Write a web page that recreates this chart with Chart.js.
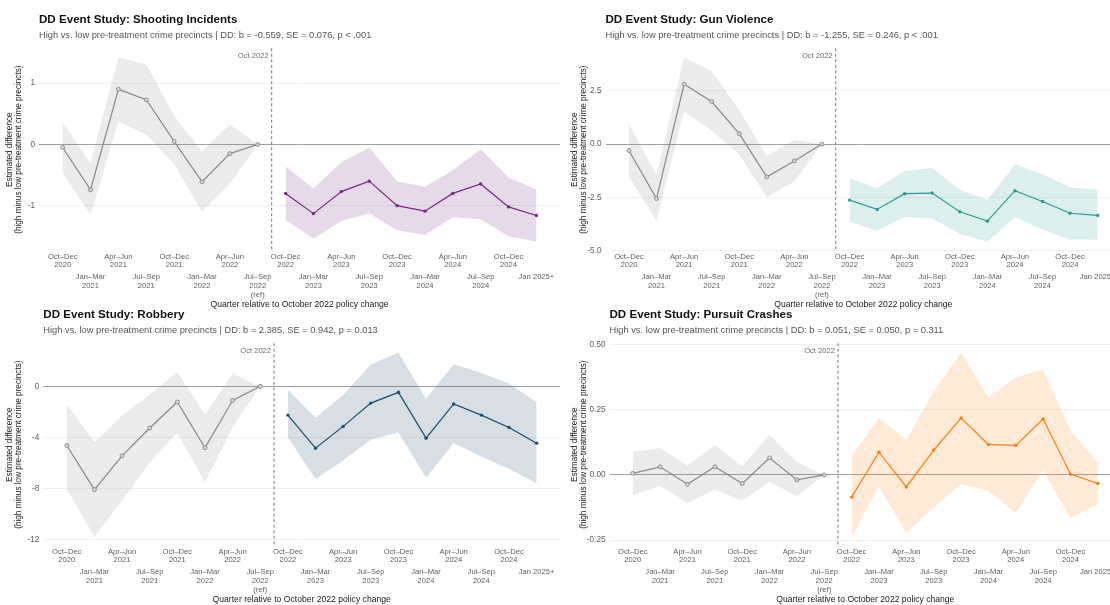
<!DOCTYPE html>
<html><head><meta charset="utf-8">
<script src="https://cdn.jsdelivr.net/npm/chart.js@4.4.1/dist/chart.umd.min.js"></script>
<style>
html,body{margin:0;padding:0;background:#fff;width:1110px;height:605px;overflow:hidden;position:relative}
.panel{position:absolute}
canvas{display:block}
</style></head><body>
<div class="panel" style="left:0;top:0"><canvas id="c1" width="565" height="310"></canvas></div>
<div class="panel" style="left:565px;top:0"><canvas id="c2" width="561" height="310"></canvas></div>
<div class="panel" style="left:0;top:295px"><canvas id="c3" width="565" height="310"></canvas></div>
<div class="panel" style="left:565px;top:295px"><canvas id="c4" width="561" height="310"></canvas></div>
<script>
// ---------- data ----------
const quarterLabels = [
  ['Oct–Dec','2020'], ['Jan–Mar','2021'], ['Apr–Jun','2021'], ['Jul–Sep','2021'],
  ['Oct–Dec','2021'], ['Jan–Mar','2022'], ['Apr–Jun','2022'], ['Jul–Sep','2022','(ref)'],
  ['Oct–Dec','2022'], ['Jan–Mar','2023'], ['Apr–Jun','2023'], ['Jul–Sep','2023'],
  ['Oct–Dec','2023'], ['Jan–Mar','2024'], ['Apr–Jun','2024'], ['Jul–Sep','2024'],
  ['Oct–Dec','2024'], ['Jan 2025+']
];
const refIndex = 7;
const policyBreak = 7.5;
const policyLabel = 'Oct 2022';
const xAxisTitle = 'Quarter relative to October 2022 policy change';
const yAxisTitle = ['Estimated difference', '(high minus low pre-treatment crime precincts)'];

const shootTitle = 'DD Event Study: Shooting Incidents';
const shootSubtitle = 'High vs. low pre-treatment crime precincts | DD: b = -0.559, SE = 0.076, p < .001';
const shootEst = [-0.05,-0.74,0.90,0.73,0.05,-0.61,-0.15,0,-0.80,-1.13,-0.77,-0.60,-1.00,-1.09,-0.80,-0.645,-1.02,-1.16];
const shootHi  = [0.36,-0.31,1.42,1.31,0.47,-0.11,0.33,0,-0.36,-0.72,-0.29,-0.05,-0.60,-0.69,-0.42,-0.08,-0.54,-0.73];
const shootLo  = [-0.47,-1.15,0.38,0.16,-0.32,-1.10,-0.64,0,-1.23,-1.54,-1.25,-1.13,-1.40,-1.48,-1.19,-1.22,-1.50,-1.59];
const shootTicks = [-1, 0, 1];
const shootTickLabels = ['-1', '0', '1'];

const gunTitle = 'DD Event Study: Gun Violence';
const gunSubtitle = 'High vs. low pre-treatment crime precincts | DD: b = -1.255, SE = 0.246, p < .001';
const gunEst = [-0.30,-2.56,2.81,2.00,0.49,-1.54,-0.79,0,-2.63,-3.07,-2.33,-2.30,-3.18,-3.62,-2.19,-2.70,-3.25,-3.35];
const gunHi  = [0.93,-1.45,4.07,3.43,1.59,-0.57,0.20,0,-1.60,-2.08,-1.26,-1.12,-2.15,-2.63,-0.96,-1.40,-2.03,-2.15];
const gunLo  = [-1.53,-3.60,1.54,0.64,-0.49,-2.50,-1.76,0,-3.66,-4.06,-3.44,-3.49,-4.23,-4.59,-3.44,-4.01,-4.48,-4.50];
const gunTicks = [-5, -2.5, 0, 2.5];
const gunTickLabels = ['-5.0', '-2.5', '0.0', '2.5'];

const robTitle = 'DD Event Study: Robbery';
const robSubtitle = 'High vs. low pre-treatment crime precincts | DD: b = 2.385, SE = 0.942, p = 0.013';
const robEst = [-4.62,-8.07,-5.43,-3.26,-1.23,-4.80,-1.10,0,-2.25,-4.83,-3.13,-1.31,-0.47,-4.05,-1.38,-2.25,-3.21,-4.44];
const robHi  = [-1.41,-4.36,-2.27,-0.65,1.12,-2.22,0.99,0,-0.26,-2.45,-0.68,1.70,2.64,-0.97,1.72,1.04,0.21,-1.25];
const robLo  = [-8.02,-11.75,-8.93,-5.93,-3.63,-7.49,-3.19,0,-3.97,-7.23,-5.80,-4.18,-3.58,-7.15,-4.44,-5.48,-6.45,-7.57];
const robTicks = [-12, -8, -4, 0];
const robTickLabels = ['-12', '-8', '-4', '0'];

const purTitle = 'DD Event Study: Pursuit Crashes';
const purSubtitle = 'High vs. low pre-treatment crime precincts | DD: b = 0.051, SE = 0.050, p = 0.311';
const purEst = [0.006,0.031,-0.036,0.031,-0.033,0.065,-0.019,0,-0.085,0.087,-0.046,0.095,0.218,0.117,0.113,0.214,0.003,-0.033];
const purHi  = [0.090,0.103,0.036,0.114,0.033,0.154,0.049,0,0.072,0.217,0.135,0.320,0.469,0.296,0.373,0.404,0.171,0.047];
const purLo  = [-0.077,-0.042,-0.108,-0.056,-0.099,-0.026,-0.082,0,-0.237,-0.044,-0.222,-0.124,-0.036,-0.062,-0.146,0.019,-0.165,-0.113];
const purTicks = [-0.25, 0, 0.25, 0.5];
const purTickLabels = ['-0.25', '0.00', '0.25', '0.50'];

// ---------- style ----------
const FONT = '"Liberation Sans", Arial, Helvetica, sans-serif';
Chart.defaults.font.family = FONT;
const grayLine = '#8a8a8a';
const grayBand = 'rgba(128,128,128,0.16)';

const policyPlugin = {
  id: 'policyLine',
  afterDatasetsDraw(chart) {
    const {ctx, chartArea, scales} = chart;
    const px = scales.x.getPixelForValue(policyBreak);
    ctx.save();
    ctx.strokeStyle = '#666666';
    ctx.lineWidth = 0.9;
    ctx.setLineDash([3, 2.5]);
    ctx.beginPath();
    ctx.moveTo(px, chartArea.top);
    ctx.lineTo(px, chartArea.bottom);
    ctx.stroke();
    ctx.setLineDash([]);
    ctx.fillStyle = '#6e6e6e';
    ctx.font = '7.6px ' + FONT;
    ctx.textAlign = 'right';
    ctx.textBaseline = 'middle';
    ctx.fillText(policyLabel, px - 3, chartArea.top + 8);
    ctx.restore();
  }
};

function pts(arr, from, to) {
  return arr.slice(from, to + 1).map((v, i) => ({x: from + i, y: v}));
}

function makeChart(id, p) {
  const last = quarterLabels.length - 1;
  const allHi = Math.max(...p.hi), allLo = Math.min(...p.lo);
  const pad = (allHi - allLo) * 0.05;
  const xPad = last * 0.05;
  new Chart(document.getElementById(id), {
    type: 'line',
    data: {
      datasets: [
        {data: pts(p.est, 0, refIndex), borderColor: grayLine, borderWidth: 1.2,
         pointRadius: 2, pointBorderWidth: 0.9, pointBorderColor: grayLine, pointBackgroundColor: '#d4d4d4',
         fill: false, tension: 0},
        {data: pts(p.est, refIndex + 1, last), borderColor: p.color, borderWidth: 1.2,
         pointRadius: 1.7, pointBorderWidth: 0, pointBackgroundColor: p.color, fill: false, tension: 0},
        {data: pts(p.hi, 0, refIndex), borderWidth: 0, pointRadius: 0, fill: '+1', backgroundColor: grayBand, tension: 0},
        {data: pts(p.lo, 0, refIndex), borderWidth: 0, pointRadius: 0, fill: false, tension: 0},
        {data: pts(p.hi, refIndex + 1, last), borderWidth: 0, pointRadius: 0, fill: '+1', backgroundColor: p.band, tension: 0},
        {data: pts(p.lo, refIndex + 1, last), borderWidth: 0, pointRadius: 0, fill: false, tension: 0}
      ]
    },
    options: {
      responsive: false, animation: false, devicePixelRatio: 1,
      layout: {padding: 0},
      plugins: {
        legend: {display: false}, tooltip: {enabled: false},
        filler: {drawTime: 'beforeDatasetsDraw'},
        title: {display: true, text: p.title, align: 'start', fullSize: false, color: '#111',
                font: {size: 11.6, weight: 'bold'}, padding: {top: 13, bottom: 2}},
        subtitle: {display: true, text: p.subtitle, align: 'start', fullSize: false, color: '#555',
                   font: {size: 9.3}, padding: {top: 1, bottom: 7.2}}
      },
      scales: {
        x: {
          type: 'linear', min: -xPad, max: last + xPad,
          grid: {display: false, drawTicks: false}, border: {display: false},
          afterBuildTicks: s => { s.ticks = quarterLabels.map((_, i) => ({value: i})); },
          ticks: {
            autoSkip: false, maxRotation: 0, minRotation: 0, padding: 2, color: '#5f5f5f',
            font: c => ({family: FONT, size: 7.6, lineHeight: (c.index % 2) ? 9.4 / 7.6 : 8 / 7.6}),
            callback: (v, i) => (i % 2) ? ['', ''].concat(quarterLabels[i]) : quarterLabels[i]
          },
          title: {display: true, text: xAxisTitle, color: '#1a1a1a', font: {size: 8.6}, padding: {top: 0, bottom: 0}},
          afterFit: s => { s.height = 59; }
        },
        y: {
          min: allLo - pad, max: allHi + pad,
          grid: {drawTicks: false,
                 color: c => (c.tick && c.tick.value === 0) ? '#a0a0a0' : '#ececec',
                 lineWidth: c => (c.tick && c.tick.value === 0) ? 1 : 0.8},
          border: {display: false},
          afterBuildTicks: s => { s.ticks = p.ticks.map(v => ({value: v})); },
          ticks: {padding: 4, color: '#5f5f5f', font: {size: 8.2}, callback: (v, i) => p.tickLabels[i]},
          title: {display: true, text: yAxisTitle, color: '#1a1a1a', font: {size: 8.2, lineHeight: 1.08},
                  padding: {top: 5, bottom: 0}},
          afterFit: s => { s.width = p.yWidth; }
        }
      }
    },
    plugins: [policyPlugin]
  });
}

makeChart('c1', {title: shootTitle, subtitle: shootSubtitle, est: shootEst, hi: shootHi, lo: shootLo,
  ticks: shootTicks, tickLabels: shootTickLabels, color: '#762a83', band: 'rgba(118,42,131,0.18)', yWidth: 39});
makeChart('c2', {title: gunTitle, subtitle: gunSubtitle, est: gunEst, hi: gunHi, lo: gunLo,
  ticks: gunTicks, tickLabels: gunTickLabels, color: '#2a9d8f', band: 'rgba(42,157,143,0.16)', yWidth: 40.5});
makeChart('c3', {title: robTitle, subtitle: robSubtitle, est: robEst, hi: robHi, lo: robLo,
  ticks: robTicks, tickLabels: robTickLabels, color: '#1f4e6b', band: 'rgba(31,78,107,0.18)', yWidth: 43.3});
makeChart('c4', {title: purTitle, subtitle: purSubtitle, est: purEst, hi: purHi, lo: purLo,
  ticks: purTicks, tickLabels: purTickLabels, color: '#ff7f0e', band: 'rgba(255,127,14,0.16)', yWidth: 44.5});
</script>
</body></html>
